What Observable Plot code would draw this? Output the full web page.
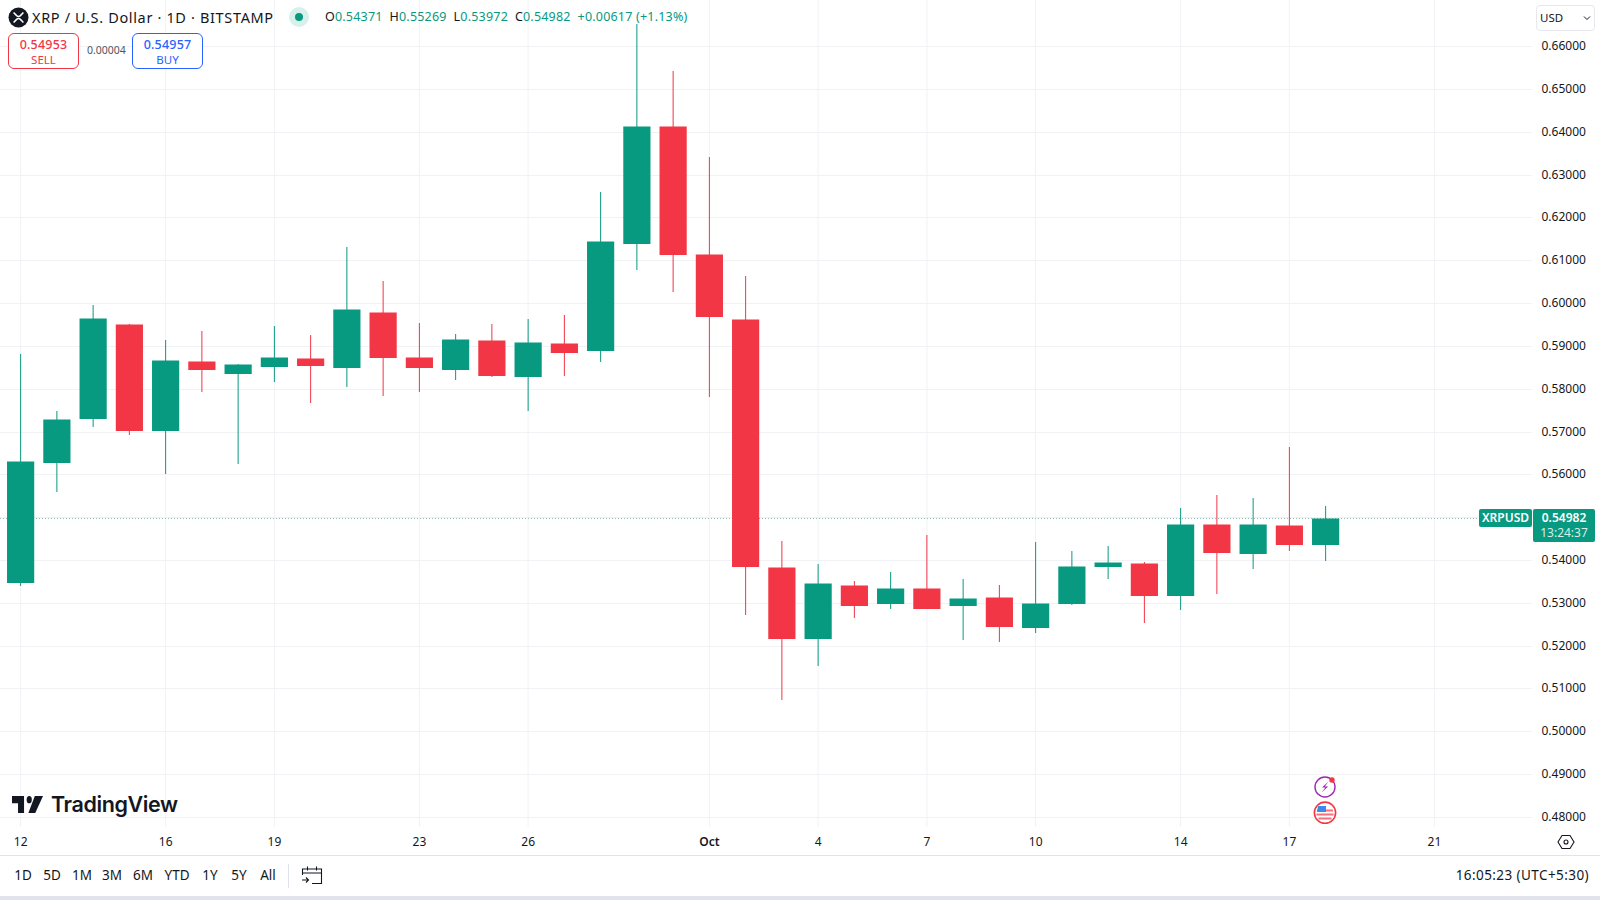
<!DOCTYPE html>
<html lang="en">
<head>
<meta charset="utf-8">
<title>XRP / U.S. Dollar · 1D · BITSTAMP</title>
<script src="https://cdn.jsdelivr.net/npm/d3@7"></script>
<script src="https://cdn.jsdelivr.net/npm/@observablehq/plot@0.6"></script>
<style>
  html,body{margin:0;padding:0;background:#fff;overflow:hidden}
  #page{position:relative;width:1600px;height:900px;font-family:"Noto Sans",sans-serif;color:#131722}
  #chart svg{display:block}
  .o{position:absolute;white-space:nowrap;line-height:1}
  .box{position:absolute;box-sizing:border-box;border-radius:6px;border:1px solid;background:#fff;text-align:center}
  .g{color:#089981}
</style>
</head>
<body>
<div id="page">
  <div id="chart"></div>

  <svg class="o" style="left:8px;top:7px" width="21" height="21" viewBox="0 0 21 21">
    <circle cx="10.5" cy="10.5" r="10" fill="#131722"/>
    <path d="M5.6 5.4 L8.6 8.6 Q10.5 10.4 12.4 8.6 L15.4 5.4 M5.6 15.6 L8.6 12.4 Q10.5 10.6 12.4 12.4 L15.4 15.6" fill="none" stroke="#fff" stroke-width="1.5"/>
  </svg>
  <div class="o" style="left:32px;top:10px;font-size:14.5px;letter-spacing:.65px">XRP / U.S. Dollar · 1D · BITSTAMP</div>
  <svg class="o" style="left:288px;top:6px" width="22" height="22"><circle cx="11" cy="11" r="10" fill="#d8f0eb"/><circle cx="11" cy="11" r="4" fill="#089981"/></svg>
  <div class="o g" style="left:325px;top:11px;font-size:12.5px;letter-spacing:.2px" id="legend"></div>

  <div class="box" style="left:8px;top:33px;width:71px;height:36px;border-color:#f23645">
    <div class="o" style="left:0;right:0;top:5px;font-size:12.5px;font-weight:500;letter-spacing:.2px;color:#f23645">0.54953</div>
    <div class="o" style="left:0;right:0;top:20px;font-size:11.5px;color:#f23645">SELL</div>
  </div>
  <div class="o" style="left:87px;top:45px;font-size:10.5px;color:#50535e">0.00004</div>
  <div class="box" style="left:132px;top:33px;width:71px;height:36px;border-color:#2962ff">
    <div class="o" style="left:0;right:0;top:5px;font-size:12.5px;font-weight:500;letter-spacing:.2px;color:#2962ff">0.54957</div>
    <div class="o" style="left:0;right:0;top:20px;font-size:11.5px;color:#2962ff">BUY</div>
  </div>

  <div class="box" style="left:1536px;top:5px;width:59px;height:26px;border-color:#e6e8ee;border-radius:4px"></div>
  <div class="o" style="left:1540px;top:12px;font-size:11.5px;color:#131722">USD</div>
  <svg class="o" style="left:1583px;top:15px" width="8" height="6"><path d="M1 1.5 L4 4.5 L7 1.5" fill="none" stroke="#131722" stroke-width="1"/></svg>

  <div class="o" style="left:1479px;top:509px;width:53px;height:18px;background:#089981;border-radius:2px;color:#fff;font-size:12px;font-weight:600;text-align:center;line-height:17px">XRPUSD</div>
  <div class="o" style="left:1533px;top:509px;width:62px;height:33px;background:#089981;border-radius:2px;color:#fff;text-align:center">
    <div style="font-size:12px;font-weight:600;line-height:17px">0.54982</div>
    <div style="font-size:12px;line-height:14px;color:#d4eee8">13:24:37</div>
  </div>

  <svg class="o" style="left:12px;top:796px" width="31" height="17" viewBox="0 6 36 14" preserveAspectRatio="none">
    <path d="M14 6H0v6h7v8h7V6Z" fill="#131722"/><circle cx="20" cy="9" r="3" fill="#131722"/><path d="M27 20h-8l7.5-14H36L27 20Z" fill="#131722"/>
  </svg>
  <div class="o" style="left:51px;top:794px;font-family:Inter,sans-serif;font-size:21.5px;font-weight:600;letter-spacing:-.4px">TradingView</div>

  <svg class="o" style="left:1312px;top:774px" width="26" height="52" viewBox="0 0 26 52">
    <circle cx="13" cy="13" r="10" fill="#fff" stroke="#9c27b0" stroke-width="1.4"/>
    <path d="M16.5 7.5 L10 13.6 L13.4 13.6 L9.5 18.5 L16.2 12.4 L12.8 12.4 Z" fill="#9c27b0"/>
    <circle cx="20" cy="6" r="2.7" fill="#f23645"/>
    <circle cx="13" cy="38.7" r="10.6" fill="#fff" stroke="#f23645" stroke-width="1.6"/>
    <path d="M5 36.5h16M4.5 40.5h17M6.5 44.5h13" stroke="#f7707b" stroke-width="2.2" fill="none"/>
    <path d="M6 32 h8 v6 h-9 Z" fill="#3d8be8"/>
  </svg>

  <svg class="o" style="left:1557px;top:834px" width="18" height="16" viewBox="0 0 18 16">
    <path d="M5 1.5 H13 L17 8 L13 14.5 H5 L1 8 Z" fill="none" stroke="#131722" stroke-width="1.1"/>
    <circle cx="9" cy="8" r="2" fill="none" stroke="#131722" stroke-width="1.1"/>
  </svg>

  <div class="o" style="left:0;top:855px;width:1600px;height:1px;background:#e0e3eb"></div>
  <div class="o" id="ranges" style="left:0;top:869px;font-size:13.5px"></div>
  <div class="o" style="left:288px;top:864px;width:1px;height:24px;background:#e0e3eb"></div>
  <svg class="o" style="left:301px;top:865px" width="22" height="20" viewBox="0 0 22 20" fill="none" stroke="#131722" stroke-width="1.1">
    <path d="M1.5 10 V4 H20.5 V18.5 H11 M1.5 8 H20.5 M6.5 1.5 V5.5 M15.5 1.5 V5.5 M1 15 H7.5 M5 12.5 L7.5 15 L5 17.5"/>
  </svg>
  <div class="o" style="right:11px;top:869px;font-size:13.5px;letter-spacing:.42px">16:05:23 (UTC+5:30)</div>
  <div class="o" style="left:0;top:896px;width:1600px;height:4px;background:#e0e3eb"></div>
</div>

<script>
const dates = ["Sep 12","Sep 13","Sep 14","Sep 15","Sep 16","Sep 17","Sep 18","Sep 19","Sep 20","Sep 21","Sep 22","Sep 23","Sep 24","Sep 25","Sep 26","Sep 27","Sep 28","Sep 29","Sep 30","Oct 1","Oct 2","Oct 3","Oct 4","Oct 5","Oct 6","Oct 7","Oct 8","Oct 9","Oct 10","Oct 11","Oct 12","Oct 13","Oct 14","Oct 15","Oct 16","Oct 17","Oct 18"];
const open  = [.53477,.56279,.57322,.59510,.57042,.58646,.58373,.58520,.58716,.58506,.59781,.58740,.58450,.59137,.58296,.59057,.58894,.61392,.64140,.61145,.59627,.53827,.52170,.53416,.52987,.53337,.52940,.53136,.52436,.52987,.53851,.53921,.53183,.54841,.54170,.54817,.54371];
const high  = [.58817,.57470,.59961,.59520,.59144,.59337,.58576,.59470,.59260,.61308,.60521,.59533,.59284,.59517,.59634,.59727,.62599,.66522,.65424,.63416,.60638,.54451,.53914,.53517,.53720,.54591,.53563,.53423,.54427,.54201,.54318,.53953,.55214,.55525,.55448,.56629,.55269];
const low   = [.53384,.55588,.57105,.56926,.56015,.57923,.56248,.58156,.57666,.58039,.57820,.57929,.58193,.58273,.57470,.58287,.58614,.60762,.60257,.57813,.52707,.50722,.51516,.52653,.52863,.52860,.52123,.52085,.52286,.52940,.53563,.52520,.52840,.53197,.53781,.54210,.53972];
const close = [.56302,.57292,.59650,.57026,.58677,.58450,.58576,.58730,.58544,.59860,.58747,.58497,.59160,.58310,.59081,.58863,.61455,.64140,.61135,.59704,.53867,.52170,.53463,.52949,.53337,.52870,.53113,.52450,.52996,.53867,.53944,.53183,.54841,.54177,.54841,.54364,.54982];

const priceTicks = [.48,.49,.50,.51,.52,.53,.54,.55,.56,.57,.58,.59,.60,.61,.62,.63,.64,.65,.66];
const timeTicks  = [0,4,7,11,14,19,22,25,28,32,35,39];
const timeLabels = ["12","16","19","23","26","Oct","4","7","10","14","17","21"];
const monthTick  = 19;

const ranges = ["1D","5D","1M","3M","6M","YTD","1Y","5Y","All"];
const rangeCenters = [23,52,82,112,143,177,210,239,268];
const legend = [["O","0.54371"],["H","0.55269"],["L","0.53972"],["C","0.54982"]];
const legendChange = "+0.00617 (+1.13%)";

const candles = dates.map((date,i)=>({i,date,open:open[i],high:high[i],low:low[i],close:close[i]}));
const up = candles.filter(d=>d.close>=d.open);
const down = candles.filter(d=>d.close<d.open);
const UP="#089981", DOWN="#f23645", GRID="#f1f2f5", INK="#131722";
const last = close[close.length-1];
const half = 0.375;

const body = (data,fill)=>Plot.rect(data,{x1:d=>d.i-half,x2:d=>d.i+half,y1:"open",y2:"close",fill,dx:.5,dy:1,insetTop:-.5});
const wick = (data,stroke)=>Plot.ruleX(data,{x:"i",y1:"low",y2:"high",stroke,strokeWidth:1});
const label = d=>timeLabels[timeTicks.indexOf(d)];

const chart = Plot.plot({
  width:1600, height:900,
  marginLeft:0, marginRight:68, marginTop:0, marginBottom:73,
  style:{background:"#fff",fontFamily:'"Noto Sans",sans-serif'},
  x:{type:"linear",domain:[-0.5552,41.7069],axis:null},
  y:{type:"linear",domain:[.54-(827-560)/4283,.54+560/4283],round:true,axis:null},
  marks:[
    Plot.ruleY(priceTicks,{stroke:GRID}),
    Plot.ruleX(timeTicks,{stroke:GRID}),
    Plot.ruleY([last],{stroke:"#8fbcb2",strokeDasharray:"1 2"}),
    wick(up,UP), wick(down,DOWN),
    body(up,UP), body(down,DOWN),
    Plot.axisY(priceTicks,{anchor:"right",tickSize:0,tickPadding:9,fontSize:12,fill:INK,tickFormat:d=>d.toFixed(5),label:null}),
    Plot.axisX(timeTicks.filter(t=>t!==monthTick),{anchor:"bottom",tickSize:0,tickPadding:10,fontSize:12,fill:INK,tickFormat:label,label:null}),
    Plot.axisX([monthTick],{anchor:"bottom",tickSize:0,tickPadding:10,fontSize:12,fontWeight:600,fill:INK,tickFormat:label,label:null})
  ]
});
document.getElementById("chart").append(chart);

const leg = document.getElementById("legend");
leg.innerHTML = legend.map(([k,v])=>`<span style="color:#131722">${k}</span>${v}`).join("&nbsp;&nbsp;")+"&nbsp;&nbsp;"+legendChange;
const r = document.getElementById("ranges");
ranges.forEach((t,i)=>{
  const s=document.createElement("span");
  s.textContent=t; s.className="o";
  s.style.left=rangeCenters[i]+"px"; s.style.transform="translateX(-50%)";
  r.append(s);
});
</script>
</body>
</html>
